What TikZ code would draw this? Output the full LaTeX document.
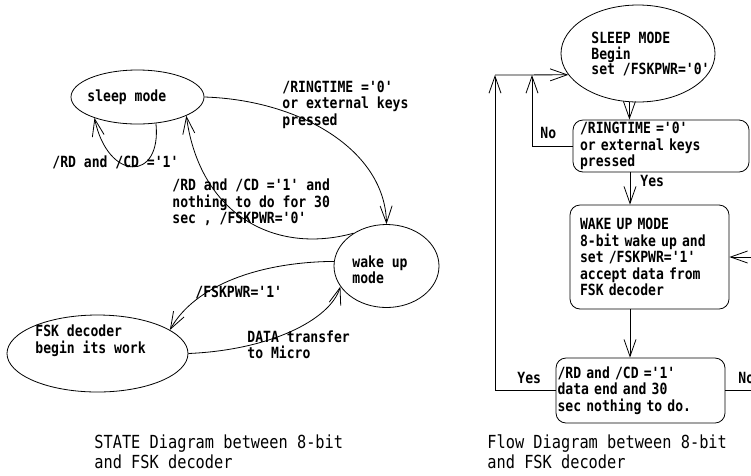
\documentclass[tikz,border=0pt]{standalone}
\usepackage{fontspec}
\usepackage{tikz}
\usetikzlibrary{positioning, arrows.meta, shapes.geometric, calc}
\newfontfamily\diafont[FakeStretch=0.85]{DejaVu Sans Mono}
\tikzset{state/.style={
    ellipse,
    draw,
    inner sep=0pt
}}
\tikzset{flowbox/.style={
    rectangle,
    draw,
    rounded corners=10pt,
    align=left,
    inner ysep=0pt,
    font=\diafont\bfseries\fontsize{15.4}{16.5}\selectfont
}}
\tikzset{lbl/.style={
    inner sep=0pt,
    anchor=west,
    align=left,
    font=\diafont\bfseries\fontsize{15.4}{16.5}\selectfont
}}
\tikzset{caption/.style={
    inner sep=0pt,
    anchor=west,
    align=left,
    font=\diafont\fontsize{18}{20}\selectfont
}}

\begin{document}
\begin{tikzpicture}[
    >={Straight Barb[length=17pt,width=12pt]}, line width=0.8pt,
    x=1pt, y=-1pt
]
    \useasboundingbox (0,0) rectangle (751,475);
    % State diagram
    \node (sleep) [state, minimum width=133pt, minimum height=54pt] at (137.5,97) {};
    \node (wake)  [state, minimum width=105pt, minimum height=83pt] at (386.5,266) {};
    \node (fsk)   [state, minimum width=181pt, minimum height=77pt] at (97.5,353.5) {};
    \node (sleeptxt) [lbl] at (87,97) {sleep mode};
    \node (waketxt)  [lbl] at (352,269.5) {wake up\\mode};
    \node (fsktxt)   [lbl] at (35,340.5) {FSK decoder\\begin its work};
    \node (looplbl)  [lbl] at (52,162) {/RD and /CD ='1'};
    \node (ringlbl)  [lbl] at (282,104.5) {/RINGTIME ='0'\\or external keys\\pressed};
    \node (idlelbl)  [lbl] at (172,202.5) {/RD and /CD ='1' and\\nothing to do for 30\\sec , /FSKPWR='0'};
    \node (pwrlbl)   [lbl] at (195,292) {/FSKPWR='1'};
    \node (datalbl)  [lbl] at (247,344.5) {DATA transfer\\to Micro};
    \node (statecap) [caption] at (94,452) {STATE Diagram between 8-bit\\and FSK decoder};
    \draw [->] (sleep.305) .. controls (162,182) and (108,182) .. (sleep.206);
    \draw [->] (sleep.east) .. controls (300,100) and (385,150) .. (wake.north);
    \draw [->] (wake.135) .. controls (275,255) and (200,215) .. (sleep.339);
    \draw [->] (wake.175) .. controls (260,262) and (195,285) .. (fsk.18);
    \draw [->] (fsk.east) .. controls (270,350) and (330,320) .. (wake.204);
    % Flow diagram
    \node (sleepR) [state, minimum width=154pt, minimum height=97pt] at (638,53.5) {};
    \node (sleepRtxt) [lbl, font=\diafont\bfseries\fontsize{15.4}{15.5}\selectfont] at (591,54) {SLEEP MODE\\Begin\\set /FSKPWR='0'};
    \node (ring)  [flowbox, text width=162pt, inner xsep=7pt, minimum height=52pt] at (661,146)
        {/RINGTIME ='0'\\or external keys\\pressed};
    \node (wakeR) [flowbox, text width=139pt, inner xsep=10pt, minimum height=104pt] at (649.5,257)
        {WAKE UP MODE\\8-bit wake up and\\set /FSKPWR='1'\\accept data from\\FSK decoder};
    \node (done)  [flowbox, text width=166pt, inner xsep=1.5pt, minimum height=65pt] at (640.5,390.5)
        {/RD and /CD ='1'\\data end and 30\\sec nothing to do.};
    \node (yes1) [lbl] at (640,181) {Yes};
    \node (no1)  [lbl] at (540,133) {No};
    \node (yes2) [lbl] at (517,378) {Yes};
    \node (no2)  [lbl] at (738,378) {No};
    \node (flowcap) [caption] at (487,452) {Flow Diagram between 8-bit\\and FSK decoder};
    \coordinate (fork) at (495,75);
    \coordinate (nojoin) at (532,75);
    \coordinate (spine) at (630,0);
    \draw [->] (fork) -- (sleepR.197);
    \draw [->] (sleepR.260) -- (sleepR.260 |- ring.north);
    \draw [->] (ring.south -| spine) -- (wakeR.north -| spine);
    \draw [->] (wakeR.south -| spine) -- (done.north -| spine);
    \draw [->] (ring.west) -- (ring.west -| nojoin) -- (nojoin);
    \draw [->] (done.west) -| (fork);
    \draw [->] (done.east) -- ++(35,0) |- (wakeR.east);
\end{tikzpicture}
\end{document}
